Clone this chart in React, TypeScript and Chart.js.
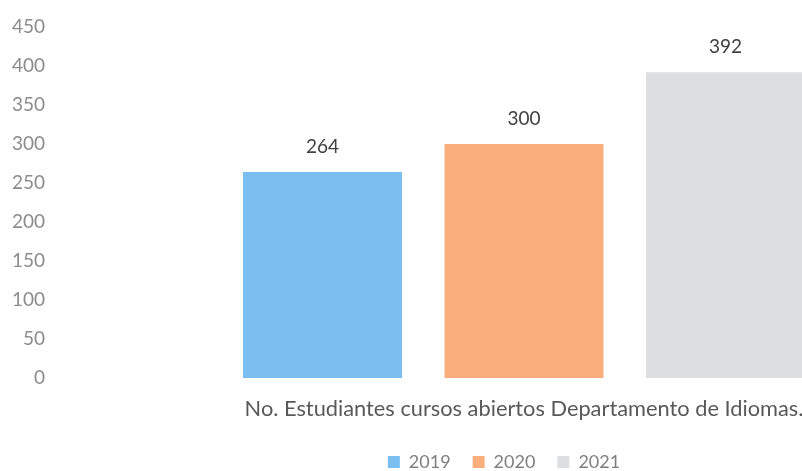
import React, { useEffect, useRef } from "react";
import { Chart, registerables } from "chart.js";

Chart.register(...registerables);

const categories = ["No. Estudiantes cursos abiertos Departamento de Idiomas."];
const seriesNames = ["2019", "2020", "2021"];
const values2019 = [264];
const values2020 = [300];
const values2021 = [392];
const seriesColors = ["#7bbff0", "#f9ae7c", "#dcdee1"];
const yTicks = [0, 50, 100, 150, 200, 250, 300, 350, 400, 450];

const FONT = "Lato, 'Open Sans', sans-serif";

const valueLabels = {
  id: "valueLabels",
  afterDatasetsDraw(chart: any) {
    const ctx = chart.ctx;
    ctx.save();
    ctx.font = `19px ${FONT}`;
    ctx.fillStyle = "#404040";
    ctx.textAlign = "center";
    ctx.textBaseline = "middle";
    chart.data.datasets.forEach((ds: any, i: number) => {
      const meta = chart.getDatasetMeta(i);
      meta.data.forEach((bar: any, j: number) => {
        ctx.fillText(String(ds.data[j]), bar.x, bar.y - 25);
      });
    });
    ctx.restore();
  },
};

export default function App() {
  const ref = useRef<HTMLCanvasElement>(null);
  useEffect(() => {
    const allSeries = [values2019, values2020, values2021];
    const chart = new Chart(ref.current as HTMLCanvasElement, {
      type: "bar",
      data: {
        labels: categories,
        datasets: seriesNames.map((name, i) => ({
          label: name,
          data: allSeries[i],
          backgroundColor: seriesColors[i],
          borderWidth: 0,
          categoryPercentage: 0.6404,
          barPercentage: 0.789,
        })),
      },
      options: {
        animation: false,
        responsive: false,
        maintainAspectRatio: false,
        layout: { padding: { top: 27, right: 12, bottom: -10, left: 12 } },
        plugins: {
          legend: {
            position: "bottom",
            labels: {
              boxWidth: 12,
              boxHeight: 12,
              padding: 22,
              color: "#7f7f7f",
              font: { family: FONT, size: 18 },
            },
          },
          tooltip: { enabled: false },
        },
        scales: {
          x: {
            afterFit: (axis: any) => {
              axis.height = 53;
            },
            grid: { display: false, drawTicks: false },
            border: { display: false },
            ticks: {
              color: "#595959",
              font: { family: FONT, size: 21.8 },
              padding: 18,
            },
          },
          y: {
            min: 0,
            max: 450,
            afterBuildTicks: (axis: any) => {
              axis.ticks = yTicks.map((v) => ({ value: v }));
            },
            afterFit: (axis: any) => {
              axis.width = 40;
            },
            grid: { display: false, drawTicks: false },
            border: { display: false },
            ticks: {
              color: "#8c8c8c",
              font: { family: FONT, size: 19 },
              padding: 7,
            },
          },
        },
      },
      plugins: [valueLabels],
    });
    return () => chart.destroy();
  }, []);

  return (
    <div
      style={{
        position: "fixed",
        left: 0,
        top: 0,
        width: 802,
        height: 471,
        overflow: "hidden",
        background: "#ffffff",
      }}
    >
      <canvas ref={ref} width={1008} height={471} style={{ width: 1008, height: 471, display: "block" }} />
    </div>
  );
}
